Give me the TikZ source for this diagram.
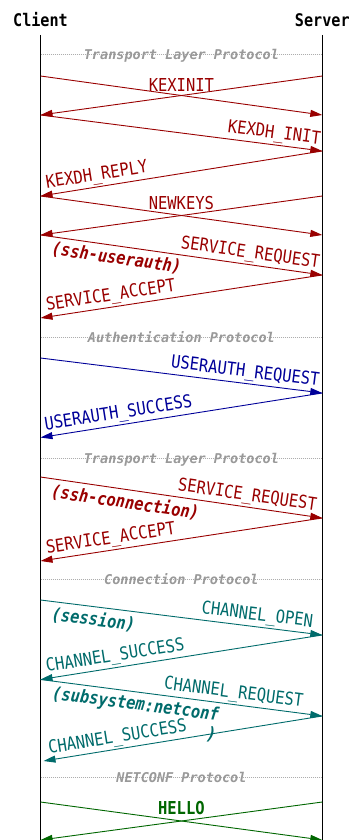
\documentclass[tikz,border=0pt]{standalone}
\usepackage{fontspec}
\newfontfamily\monomsg[FakeStretch=0.87]{DejaVu Sans Mono}
\newfontfamily\monorule{DejaVu Sans Mono}
\usetikzlibrary{arrows.meta}
\definecolor{kexred}{HTML}{990000}
\definecolor{authblue}{HTML}{000099}
\definecolor{chanteal}{HTML}{006B6B}
\definecolor{ncgreen}{HTML}{006600}
\definecolor{rulegray}{HTML}{999999}
% one message row: a point on each lifeline at the given height
\newcommand\msgrow[2]{\coordinate (c#1) at (40.5,#2);\coordinate (s#1) at (322.3,#2);}
\begin{document}
\begin{tikzpicture}[x=1pt,y=-1pt,
  every node/.style={font=\monomsg\fontsize{17.8}{20}\selectfont, inner sep=0pt},
  actor/.style={font=\monomsg\bfseries\fontsize{17.4}{20}\selectfont, anchor=base},
  lifeline/.style={line width=0.9pt, black},
  msg/.style={line width=0.9pt, -{Triangle[length=12pt,width=7pt]}},
  tagR/.style={sloped, anchor=south east, inner ysep=6pt, text depth=0pt},
  tagL/.style={sloped, anchor=south west, inner ysep=6pt, text depth=0pt},
  note/.style={sloped, anchor=north west, inner ysep=4pt,
    font=\monomsg\bfseries\itshape\fontsize{17.8}{20}\selectfont},
  cross/.style={anchor=base},
  divider/.style={rulegray!80, line width=0.7pt, dash pattern=on 0.8pt off 1.2pt},
  divlabel/.style={rulegray, anchor=base,
    font=\monorule\bfseries\itshape\fontsize{13.5}{16}\selectfont},
]
\useasboundingbox (0,0) rectangle (350,840);

% actors and lifelines
\node[actor] (client) at (40.5,27) {Client};
\node[actor] (server) at (322.3,27) {Server};
\coordinate (ctop) at (40.5,35);  \coordinate (cbot) at (40.5,840);
\coordinate (stop) at (322.3,35); \coordinate (sbot) at (322.3,840);
\draw[lifeline] (ctop) -- (cbot);
\draw[lifeline] (stop) -- (sbot);

% message rows
\msgrow{1}{76}   \msgrow{2}{115}  \msgrow{3}{151}  \msgrow{4}{196}
\msgrow{5}{235}  \msgrow{6}{275}  \msgrow{7}{318}  \msgrow{8}{358}
\msgrow{9}{393}  \msgrow{10}{437.5} \msgrow{11}{477} \msgrow{12}{518}
\msgrow{13}{561} \msgrow{14}{600} \msgrow{15}{635} \msgrow{16}{679.5}
\msgrow{17}{716} \msgrow{18}{761} \msgrow{19}{802} \msgrow{20}{840}
\coordinate (c18) at (43.5,761);

% section dividers
\foreach \y/\n/\t in {54/1/Transport Layer Protocol, 337/2/Authentication Protocol,
    458/3/Transport Layer Protocol, 579/4/Connection Protocol, 777/5/NETCONF Protocol}{
  \coordinate (dl\n) at (40.5,\y);
  \coordinate (dr\n) at (322.3,\y);
  \draw[divider] (dl\n) -- (dr\n);
  \node[divlabel] (div\n) at (181.4,\y+5.7) {\t};
}

% transport layer: key exchange
\draw[msg,kexred] (c1) -- (s2);
\draw[msg,kexred] (s1) -- (c2);
\node[kexred,cross] (kexinit) at (181.4,91.7) {KEXINIT};
\draw[msg,kexred] (c2) -- node[tagR,pos=0.99] (kexdhinit) {KEXDH\_INIT} (s3);
\draw[msg,kexred] (s3) -- node[tagL,pos=0.975] (kexdhreply) {KEXDH\_REPLY} (c4);
\draw[msg,kexred] (s4) -- (c5);
\draw[msg,kexred] (c4) -- (s5);
\node[kexred,cross] (newkeys) at (181.4,209.3) {NEWKEYS};
\draw[msg,kexred] (c5) -- node[tagR,pos=0.986] (sreq1) {SERVICE\_REQUEST}
  node[note,pos=0.045] (sreq1n) {(ssh-userauth)} (s6);
\draw[msg,kexred] (s6) -- node[tagL,pos=0.975] (sacc1) {SERVICE\_ACCEPT} (c7);

% authentication
\draw[msg,authblue] (c8) -- node[tagR,pos=0.986] (uareq) {USERAUTH\_REQUEST} (s9);
\draw[msg,authblue] (s9) -- node[tagL,pos=0.98] (uasucc) {USERAUTH\_SUCCESS} (c10);

% transport layer: connection service
\draw[msg,kexred] (c11) -- node[tagR,pos=0.975] (sreq2) {SERVICE\_REQUEST}
  node[note,pos=0.044] (sreq2n) {(ssh-connection)} (s12);
\draw[msg,kexred] (s12) -- node[tagL,pos=0.975] (sacc2) {SERVICE\_ACCEPT} (c13);

% connection protocol
\draw[msg,chanteal] (c14) -- node[tagR,pos=0.963] (chopen) {CHANNEL\_OPEN}
  node[note,pos=0.044] (chopenn) {(session)} (s15);
\draw[msg,chanteal] (s15) -- node[tagL,pos=0.975] (chsucc1) {CHANNEL\_SUCCESS} (c16);
\draw[msg,chanteal] (c16) -- node[tagR,pos=0.928] (chreq) {CHANNEL\_REQUEST}
  node[note,pos=0.046,align=right] (chreqn) {(subsystem:netconf\\)} (s17);
\draw[msg,chanteal] (s17) -- node[tagL,pos=0.977] (chsucc2) {CHANNEL\_SUCCESS} (c18);

% netconf
\draw[msg,ncgreen] (c19) -- (s20);
\draw[msg,ncgreen] (s19) -- (c20);
\node[ncgreen,cross,font=\monomsg\bfseries\fontsize{17.8}{20}\selectfont] (hello) at (181.4,814.3) {HELLO};
\end{tikzpicture}
\end{document}
